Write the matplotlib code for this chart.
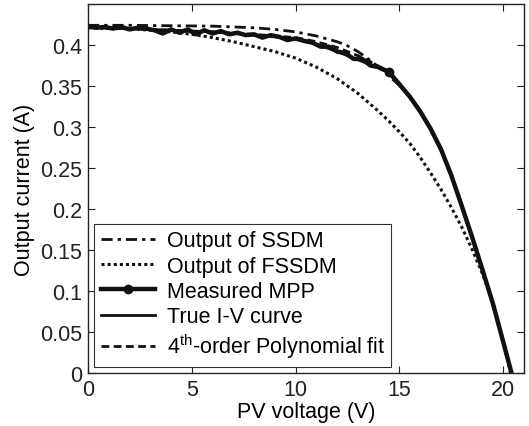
import numpy as np
import matplotlib
matplotlib.use('Agg')
import matplotlib.pyplot as plt
from matplotlib.ticker import FormatStrFormatter

plt.rcParams['font.family'] = ['Liberation Sans', 'DejaVu Sans']
plt.rcParams['mathtext.fontset'] = 'custom'
plt.rcParams['mathtext.rm'] = 'Liberation Sans'

# SSDM model output (dash-dot)
v_ssdm = [0, 2, 4, 6, 8, 9, 10, 11, 12, 12.5, 13, 13.5, 14, 14.5, 15, 15.5,
          16, 16.5, 17, 17.5, 18, 18.5, 19, 19.5, 20, 20.4]
i_ssdm = [0.424, 0.424, 0.4235, 0.423, 0.421, 0.419, 0.416, 0.411, 0.404, 0.399,
          0.392, 0.383, 0.373, 0.362, 0.351, 0.337, 0.319, 0.298, 0.273, 0.241,
          0.204, 0.166, 0.126, 0.085, 0.038, 0.0]

# FSSDM model output (dotted)
v_fssdm = [0, 2, 4, 5, 6, 7, 8, 9, 10, 11, 12, 13, 14, 14.5, 15, 15.5, 16,
           16.5, 17, 17.5, 18, 18.5, 19, 19.5, 20, 20.35]
i_fssdm = [0.421, 0.420, 0.416, 0.413, 0.409, 0.404, 0.398, 0.392, 0.384, 0.373,
           0.359, 0.341, 0.319, 0.307, 0.294, 0.280, 0.263, 0.244, 0.224, 0.202,
           0.178, 0.151, 0.121, 0.086, 0.040, 0.0]

# measured MPP trace
v_meas = [0.0, 0.4, 0.8, 1.2, 1.6, 2.0, 2.4, 2.8, 3.2, 3.6, 4.0, 4.4, 4.8, 5.2,
          5.6, 6.0, 6.4, 6.8, 7.2, 7.6, 8.0, 8.4, 8.8, 9.2, 9.6, 10.0, 10.4, 10.8,
          11.2, 11.6, 12.0, 12.4, 12.8, 13.2, 13.6, 14.0, 14.5, 15.0, 15.5, 16.0,
          16.5, 17.0, 17.5, 18.0, 18.5, 19.0, 19.5, 20.0, 20.4]
i_meas = [0.423, 0.421, 0.422, 0.420, 0.422, 0.419, 0.421, 0.420, 0.418, 0.414,
          0.419, 0.415, 0.419, 0.413, 0.418, 0.414, 0.417, 0.413, 0.415, 0.412,
          0.413, 0.409, 0.412, 0.410, 0.406, 0.408, 0.405, 0.403, 0.398, 0.398,
          0.392, 0.390, 0.383, 0.383, 0.375, 0.373, 0.367, 0.352, 0.337, 0.319,
          0.298, 0.273, 0.241, 0.204, 0.166, 0.126, 0.085, 0.038, 0.0]
mpp_idx = 36

# true I-V curve
v_true = [0, 1, 2, 3, 4, 5, 6, 7, 8, 9, 10, 11, 12, 12.5, 13, 13.5, 14, 14.5,
          15, 15.5, 16, 16.5, 17, 17.5, 18, 18.5, 19, 19.5, 20, 20.4]
i_true = [0.422, 0.421, 0.420, 0.419, 0.418, 0.417, 0.416, 0.414, 0.412, 0.410,
          0.407, 0.401, 0.392, 0.387, 0.382, 0.377, 0.372, 0.366, 0.353, 0.337,
          0.319, 0.298, 0.273, 0.241, 0.204, 0.166, 0.126, 0.085, 0.038, 0.0]

# 4th-order polynomial fit
v_poly = [0, 2, 4, 6, 8, 10, 11, 12, 12.5, 13, 13.5, 14, 14.5, 15, 15.5, 16,
          16.5, 17, 17.5, 18, 18.5, 19, 19.5, 20, 20.4]
i_poly = [0.421, 0.420, 0.418, 0.416, 0.413, 0.409, 0.404, 0.397, 0.392, 0.387,
          0.381, 0.374, 0.366, 0.353, 0.337, 0.319, 0.298, 0.273, 0.241, 0.204,
          0.166, 0.126, 0.085, 0.038, 0.0]

fig = plt.figure(figsize=(5.29, 4.27), dpi=100)
ax = fig.add_axes([0.1664, 0.1241, 0.8241, 0.8642])

k = '#111111'
ax.plot(v_ssdm, i_ssdm, color=k, lw=2.0, ls=(0, (4, 1.8, 1.2, 1.8)), label='Output of SSDM')
ax.plot(v_fssdm, i_fssdm, color=k, lw=2.2, ls=(0, (1.0, 1.0)), label='Output of FSSDM')
ax.plot(v_meas, i_meas, color=k, lw=3.2, marker='o', ms=6, markevery=[mpp_idx],
        label='Measured MPP')
ax.plot(v_true, i_true, color=k, lw=2.0, label='True I-V curve')
ax.plot(v_poly, i_poly, color=k, lw=2.0, ls=(0, (2.8, 1.6)),
        label='4$^{\\mathrm{th}}$-order Polynomial fit')

ax.set_xlim(0, 21)
ax.set_ylim(0, 0.45)
ax.set_xticks([0, 5, 10, 15, 20])
ax.set_yticks(np.arange(0, 0.401, 0.05))
ax.yaxis.set_major_formatter(FormatStrFormatter('%g'))
ax.tick_params(direction='in', length=5, width=0.8, top=True, right=True,
               labelsize=15.5, colors='#222222', pad=4)
for s in ax.spines.values():
    s.set_linewidth(1.0)
    s.set_color('#222222')

ax.set_xlabel('PV voltage (V)', fontsize=15.5, labelpad=1)
ax.set_ylabel('Output current (A)', fontsize=15.5, labelpad=4)

leg = ax.legend(loc='lower left', fontsize=15.5, frameon=True, fancybox=False,
                edgecolor='#333333', framealpha=1, borderaxespad=0.3,
                handlelength=2.5, handletextpad=0.55, labelspacing=0.2,
                borderpad=0.3)
leg.get_frame().set_linewidth(0.8)

fig.savefig('out.png', dpi=100)
